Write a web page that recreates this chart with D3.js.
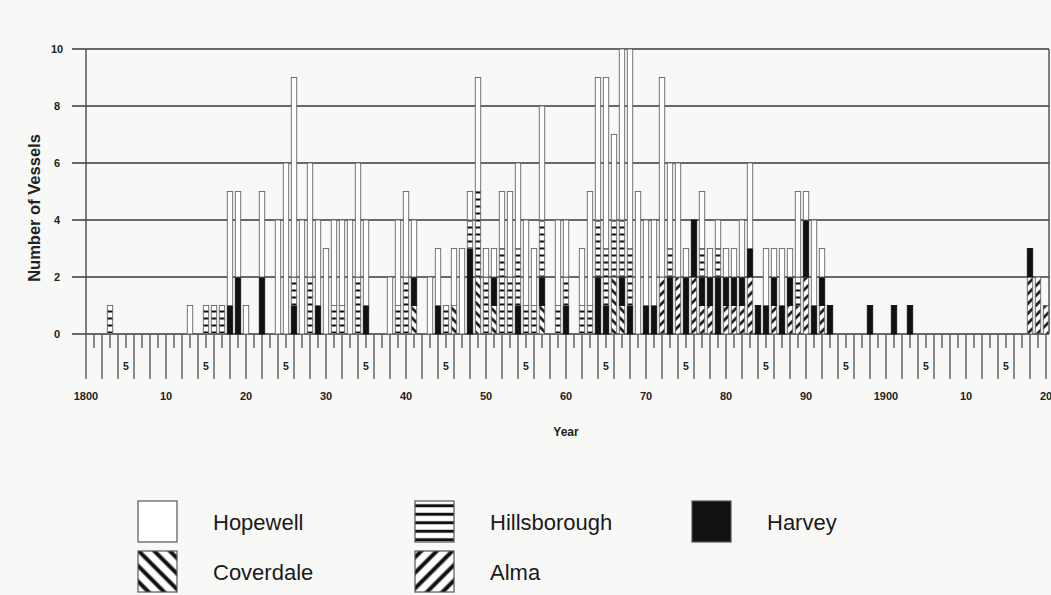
<!DOCTYPE html>
<html><head><meta charset="utf-8">
<script src="https://cdn.jsdelivr.net/npm/d3@7"></script>
<style>html,body{margin:0;padding:0;background:#f8f8f6;}svg{display:block;}</style>
</head><body>
<svg id="c" width="1051" height="595"></svg>
<script>
// ---- data ----
const years = [1803,1813,1815,1816,1817,1818,1819,1820,1822,1824,1825,1826,1827,1828,1829,1830,1831,1832,1833,1834,1835,1838,1839,1840,1841,1843,1844,1845,1846,1847,1848,1849,1850,1851,1852,1853,1854,1855,1856,1857,1859,1860,1862,1863,1864,1865,1866,1867,1868,1869,1870,1871,1872,1873,1874,1875,1876,1877,1878,1879,1880,1881,1882,1883,1884,1885,1886,1887,1888,1889,1890,1891,1892,1893,1898,1901,1903,1918,1919,1920];
const coverdale    = [0,0,0,0,0,0,0,0,0,0,0,0,0,0,0,0,0,0,0,0,0,0,0,0,1,0,0,0,1,0,0,2,0,1,0,0,0,0,0,1,0,0,0,0,0,0,2,1,0,0,0,0,0,0,0,0,0,0,0,0,0,0,0,0,0,0,0,0,0,0,0,0,0,0,0,0,0,0,0,0];
const alma         = [0,0,0,0,0,0,0,0,0,0,0,0,0,0,0,0,0,0,0,0,0,0,0,0,0,0,0,0,0,0,0,0,0,0,0,0,0,0,0,0,0,0,0,0,0,0,0,0,0,0,0,0,2,0,2,0,2,1,1,0,1,1,1,2,0,0,1,0,1,1,2,0,1,0,0,0,0,2,2,1];
const harvey       = [0,0,0,0,0,1,2,0,2,0,0,1,0,0,1,0,0,0,0,0,1,0,0,0,1,0,1,0,0,0,3,0,0,1,0,0,1,0,0,1,0,1,0,0,2,1,0,1,1,0,1,1,0,2,0,2,2,1,1,2,1,1,1,1,1,1,1,1,1,0,2,1,1,1,1,1,1,1,0,0];
const hillsborough = [1,0,1,1,1,0,0,0,0,0,0,1,0,2,0,0,1,1,0,2,0,0,1,2,0,0,0,1,0,0,1,3,2,0,3,2,2,1,1,2,1,1,1,1,2,2,2,2,2,0,0,0,0,1,0,0,0,1,0,1,0,0,0,0,0,0,0,0,0,1,0,0,0,0,0,0,0,0,0,0];
const hopewell     = [0,1,0,0,0,4,3,1,3,4,6,7,4,4,3,3,3,3,4,4,3,2,3,3,2,2,2,0,2,3,1,4,1,1,2,3,3,3,2,4,3,2,2,4,5,6,3,6,7,5,3,3,7,3,4,1,0,2,1,1,1,1,2,3,0,2,1,2,1,3,1,3,1,0,0,0,0,0,0,0];
const seriesNames = ["Coverdale","Alma","Harvey","Hillsborough","Hopewell"]; // stack order bottom -> top
const yTicks = [0,2,4,6,8,10];
const decadeLabels = ["1800","10","20","30","40","50","60","70","80","90","1900","10","20"];
const legendRows = [["Hopewell","Hillsborough","Harvey"],["Coverdale","Alma"]];

const svg = d3.select("#c");
const x = d3.scaleLinear().domain([1800,1920]).range([86,1046]);
const y = d3.scaleLinear().domain([0,10]).range([334,49]);
const ink = "#4a4a4a";

// patterns
const defs = svg.append("defs");
function hpat(id, gap, w){
  const p = defs.append("pattern").attr("id",id).attr("patternUnits","userSpaceOnUse").attr("width",gap).attr("height",gap);
  p.append("rect").attr("width",gap).attr("height",gap).attr("fill","#fff");
  p.append("rect").attr("x",0).attr("y",(gap-w)/2).attr("width",gap).attr("height",w).attr("fill","#111");
}
function dpat(id, gap, w, ang){
  const p = defs.append("pattern").attr("id",id).attr("patternUnits","userSpaceOnUse").attr("width",gap).attr("height",gap).attr("patternTransform",`rotate(${ang})`);
  p.append("rect").attr("width",gap).attr("height",gap).attr("fill","#fff");
  p.append("rect").attr("x",(gap-w)/2).attr("y",0).attr("width",w).attr("height",gap).attr("fill","#111");
}
hpat("hillsB",7,2); dpat("covB",7,2.6,-45); dpat("almaB",7,2.6,45);
hpat("hillsL",8.5,3); dpat("covL",11,4,-45); dpat("almaL",11,4,45);
const fillB = {Hopewell:"#fff",Hillsborough:"url(#hillsB)",Harvey:"#111",Coverdale:"url(#covB)",Alma:"url(#almaB)"};
const fillL = {Hopewell:"#fff",Hillsborough:"url(#hillsL)",Harvey:"#111",Coverdale:"url(#covL)",Alma:"url(#almaL)"};

// gridlines
svg.append("g").selectAll("line").data(yTicks).join("line")
  .attr("x1",72).attr("x2",1049).attr("y1",d=>y(d)).attr("y2",d=>y(d))
  .attr("stroke","#3a3a3a").attr("stroke-width",1.6);
// frame
svg.append("line").attr("x1",x(1800)).attr("x2",x(1800)).attr("y1",y(10)).attr("y2",y(0)).attr("stroke",ink).attr("stroke-width",1.4);
svg.append("line").attr("x1",1049).attr("x2",1049).attr("y1",y(10)).attr("y2",y(0)).attr("stroke",ink).attr("stroke-width",1.4);

// x ticks
const tickYears = d3.range(1800,1921);
svg.append("g").selectAll("line").data(tickYears).join("line")
  .attr("x1",d=>x(d)).attr("x2",d=>x(d)).attr("y1",y(0))
  .attr("y2",d=>d%2===0?379:348)
  .attr("stroke","#5a5a5a").attr("stroke-width",1.4);
const tf = "'Liberation Sans', Arial, sans-serif";
svg.append("g").selectAll("text").data(decadeLabels).join("text")
  .attr("x",(d,i)=>x(1800+i*10)).attr("y",400).attr("text-anchor","middle")
  .attr("font-family",tf).attr("font-weight","bold").attr("font-size",11).attr("fill","#222").text(d=>d);
svg.append("g").selectAll("text").data(d3.range(1805,1920,10)).join("text")
  .attr("x",d=>x(d)).attr("y",370).attr("text-anchor","middle")
  .attr("font-family",tf).attr("font-weight","bold").attr("font-size",10.5).attr("fill","#222").text("5");
svg.append("text").attr("x",566).attr("y",436).attr("text-anchor","middle")
  .attr("font-family",tf).attr("font-weight","bold").attr("font-size",12).attr("fill","#222").text("Year");

// y labels
svg.append("g").selectAll("text").data(yTicks).join("text")
  .attr("x",57).attr("y",d=>y(d)+4).attr("text-anchor","middle")
  .attr("font-family",tf).attr("font-weight","bold").attr("font-size",11).attr("fill","#222").text(d=>d);
svg.append("text").attr("transform","translate(40,208) rotate(-90)").attr("text-anchor","middle")
  .attr("font-family",tf).attr("font-weight","bold").attr("font-size",16.5).attr("fill","#222").text("Number of Vessels");

// bars
const table = years.map((yr,i)=>({year:yr,Coverdale:coverdale[i],Alma:alma[i],Harvey:harvey[i],Hillsborough:hillsborough[i],Hopewell:hopewell[i]}));
const stack = d3.stack().keys(seriesNames)(table);
const bw = 5.4;
const g = svg.append("g");
stack.forEach(layer=>{
  g.append("g").selectAll("rect").data(layer.filter(d=>d[1]>d[0])).join("rect")
    .attr("x",d=>x(d.data.year)-bw/2).attr("width",bw)
    .attr("y",d=>y(d[1])).attr("height",d=>y(d[0])-y(d[1]))
    .attr("fill",fillB[layer.key])
    .attr("stroke",layer.key==="Harvey"?"#111":"#666").attr("stroke-width",0.9);
});

// legend
const lg = svg.append("g");
legendRows.forEach((row,r)=>{
  row.forEach((name,c)=>{
    const lx = 138 + c*277, ly = 501 + r*50;
    lg.append("rect").attr("x",lx).attr("y",ly).attr("width",39).attr("height",41)
      .attr("fill",fillL[name]).attr("stroke","#555").attr("stroke-width",1.2);
    lg.append("text").attr("x",lx+75).attr("y",ly+29).attr("font-family",tf)
      .attr("font-size",22).attr("fill","#1a1a1a").text(name);
  });
});
</script>
</body></html>
